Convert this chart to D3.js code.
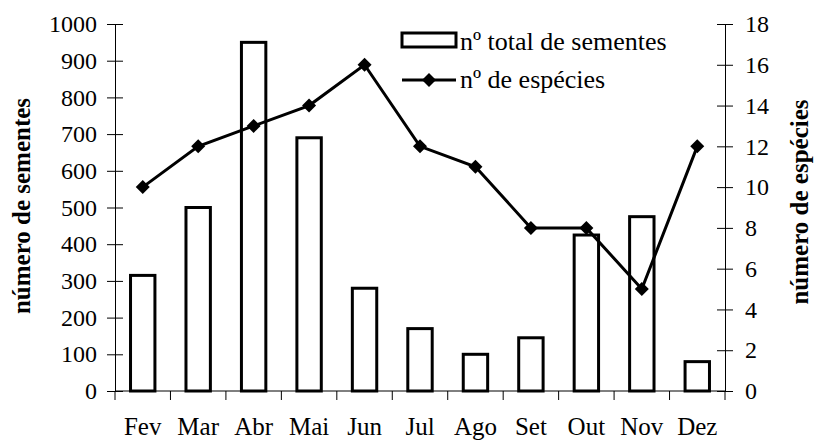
<!DOCTYPE html>
<html>
<head>
<meta charset="utf-8">
<script src="https://cdn.jsdelivr.net/npm/d3@7"></script>
<style>
  body { margin: 0; background: #fff; }
  svg text { font-family: "Liberation Serif", "Times New Roman", serif; fill: #000; }
</style>
</head>
<body>
<script>
const months = ['Fev', 'Mar', 'Abr', 'Mai', 'Jun', 'Jul', 'Ago', 'Set', 'Out', 'Nov', 'Dez'];
const sementes = [315, 500, 950, 690, 280, 170, 100, 145, 425, 475, 80];
const especies = [10, 12, 13, 14, 16, 12, 11, 8, 8, 5, 12];
const leftTicks = d3.range(0, 1001, 100);
const rightTicks = d3.range(0, 19, 2);

const w = 816, h = 441;
const margin = { left: 115, right: 91, top: 24, bottom: 50 };
const serif = '"Liberation Serif", "Times New Roman", serif';

const svg = d3.select('body').append('svg')
  .attr('width', w)
  .attr('height', h);

// scales
const x = d3.scaleBand()
  .domain(months)
  .range([margin.left, w - margin.right]);

const yL = d3.scaleLinear()
  .domain([0, 1000])
  .range([h - margin.bottom, margin.top]);

const yR = d3.scaleLinear()
  .domain([0, 18])
  .range([h - margin.bottom, margin.top]);

const barW = x.bandwidth() * 0.44;
const cx = (i) => x(months[i]) + x.bandwidth() / 2;

// bars
svg.append('g')
  .selectAll('rect')
  .data(sementes)
  .enter().append('rect')
    .attr('x', (d, i) => cx(i) - barW / 2)
    .attr('y', d => yL(d))
    .attr('width', barW)
    .attr('height', d => yL(0) - yL(d))
    .attr('fill', '#fff')
    .attr('stroke', '#000')
    .attr('stroke-width', 3);

// left axis
const axL = svg.append('g')
  .attr('transform', `translate(${margin.left},0)`)
  .call(d3.axisLeft(yL).tickValues(leftTicks).tickFormat(d3.format('d')).tickSizeOuter(0).tickPadding(12));
axL.selectAll('.tick line').attr('x1', -8).attr('x2', 8);

// right axis
const axR = svg.append('g')
  .attr('transform', `translate(${w - margin.right},0)`)
  .call(d3.axisRight(yR).tickValues(rightTicks).tickSizeOuter(0).tickPadding(14));
axR.selectAll('.tick line').attr('x1', -8).attr('x2', 8);

svg.selectAll('.tick text').style('font-size', '24px');

// x axis, ticks on band edges
const xAxis = svg.append('g')
  .attr('transform', `translate(0,${h - margin.bottom})`);
xAxis.append('line')
  .attr('x1', margin.left).attr('x2', w - margin.right)
  .attr('stroke', '#000');
xAxis.selectAll('.edge')
  .data(months.concat(['end']))
  .enter().append('line')
    .attr('class', 'edge')
    .attr('x1', (d, i) => i < months.length ? x(d) : x.range()[1])
    .attr('x2', (d, i) => i < months.length ? x(d) : x.range()[1])
    .attr('y1', 0).attr('y2', 9)
    .attr('stroke', '#000');
xAxis.selectAll('.lbl')
  .data(months)
  .enter().append('text')
    .attr('class', 'lbl')
    .attr('x', d => x(d) + x.bandwidth() / 2)
    .attr('y', 44)
    .attr('text-anchor', 'middle')
    .style('font-size', '25px')
    .text(d => d);

svg.selectAll('.domain').attr('stroke', '#000');
svg.selectAll('.tick line').attr('stroke', '#000');

// line
const line = d3.line()
  .x((d, i) => cx(i))
  .y(d => yR(d));

svg.append('path')
  .datum(especies)
  .attr('d', line)
  .attr('fill', 'none')
  .attr('stroke', '#000')
  .attr('stroke-width', 3)
  .attr('stroke-linejoin', 'miter');

const diamond = (px, py, r) => `M${px},${py - r}L${px + r},${py}L${px},${py + r}L${px - r},${py}Z`;

svg.append('g')
  .selectAll('path')
  .data(especies)
  .enter().append('path')
    .attr('d', (d, i) => diamond(cx(i), yR(d), 7))
    .attr('fill', '#000');

// axis titles
svg.append('text')
  .attr('transform', 'translate(30,206) rotate(-90)')
  .attr('text-anchor', 'middle')
  .style('font-size', '25px')
  .style('font-weight', 'bold')
  .text('número de sementes');

svg.append('text')
  .attr('transform', 'translate(808,202) rotate(-90)')
  .attr('text-anchor', 'middle')
  .style('font-size', '25px')
  .style('font-weight', 'bold')
  .text('número de espécies');

// legend
const lg = svg.append('g').attr('transform', 'translate(402,33)');
lg.append('rect')
  .attr('x', 0).attr('y', 0)
  .attr('width', 54).attr('height', 14)
  .attr('fill', '#fff')
  .attr('stroke', '#000')
  .attr('stroke-width', 3);
lg.append('text')
  .attr('x', 58).attr('y', 17)
  .style('font-size', '26px')
  .text('nº total de sementes');
lg.append('line')
  .attr('x1', 0).attr('x2', 54)
  .attr('y1', 47).attr('y2', 47)
  .attr('stroke', '#000')
  .attr('stroke-width', 3);
lg.append('path')
  .attr('d', diamond(27, 47, 7))
  .attr('fill', '#000');
lg.append('text')
  .attr('x', 58).attr('y', 55)
  .style('font-size', '26px')
  .text('nº de espécies');

svg.selectAll('text').style('font-family', serif).style('fill', '#000');
</script>
</body>
</html>
